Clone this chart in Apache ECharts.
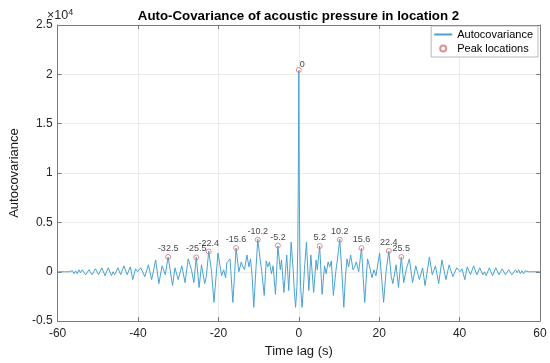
<!DOCTYPE html>
<html>
<head>
<meta charset="utf-8">
<script src="https://cdn.jsdelivr.net/npm/echarts@6/dist/echarts.min.js"></script>
<style>html,body{margin:0;padding:0;background:#fff;}#c{width:550px;height:363px;}</style>
</head>
<body>
<div id="c"></div>
<script>
// Autocovariance is an even function: read the non-negative lags, mirror to negative lags
const lagPos = [0,0.12,0.25,0.45,0.8,1.1,1.4,1.9,2.5,3.0,3.7,4.3,4.6,5.2,5.8,6.4,6.8,7.3,7.7,8.1,8.6,9.2,9.6,10.2,10.7,11.2,11.6,12.0,12.4,12.9,13.5,14.0,14.3,14.9,15.6,16.0,16.4,17.1,17.5,17.9,18.2,18.7,19.2,20.1,21.1,21.7,22.4,23.0,23.4,24.2,24.8,25.5,26.1,26.7,27.5,28.3,29.1,30.0,30.8,31.4,32.5,33.2,34.0,34.8,35.6,36.6,37.4,38.3,39.3,40.1,40.6,41.3,41.9,42.7,43.5,44.3,45.0,45.8,46.2,46.6,47.4,48.2,49.0,49.8,50.6,51.4,52.2,53.0,53.9,54.3,54.7,55.1,55.5,55.9,56.3,56.7,57.1,58.0,60.0];
const covPos = [20400,9000,2500,-1500,-3600,-2000,200,3000,-1900,1700,-2100,1200,200,2600,-2300,600,-200,1000,500,1100,-2400,0,1200,3300,0,-3600,-500,1300,500,1700,200,600,1000,0,2400,-500,-3100,1300,700,900,-600,200,-400,1900,-3100,0,2100,-500,-1200,700,-1600,1500,-1100,200,1300,-1100,600,-800,400,-1400,1500,-300,600,-1200,1200,-800,700,-500,400,0,300,-800,500,-300,600,-300,400,-300,0,-400,400,-400,400,-300,300,-300,200,-300,200,-100,200,-200,100,-200,100,-100,0,0,0];

const peakLags = [-32.5,-25.5,-22.4,-15.6,-10.2,-5.2,0,5.2,10.2,15.6,22.4,25.5];
const peakVals = [1500,1450,2050,2400,3250,2650,20440,2600,3250,2400,2100,1500];
const peakLabels = ['-32.5','-25.5','-22.4','-15.6','-10.2','-5.2','0','5.2','10.2','15.6','22.4','25.5'];

const xTicks = {min:-60, max:60, interval:20};
const yTicks = {min:-5000, max:25000, interval:5000};

const lineData = [];
for (let i = lagPos.length - 1; i > 0; i--) lineData.push([-lagPos[i], covPos[i]]);
for (let i = 0; i < lagPos.length; i++) lineData.push([lagPos[i], covPos[i]]);

const peakData = peakLags.map((t, i) => {
  const d = {value:[t, peakVals[i]], name: peakLabels[i]};
  if (t === 0) d.label = {position:'right', offset:[-3,-5]};
  return d;
});

const FONT = '"Liberation Sans", Arial, Helvetica, sans-serif';
const AX = '#7a7a7a';
const LINE = '#4aa3d0';
const chart = echarts.init(document.getElementById('c'), null, {renderer:'canvas'});
chart.setOption({
  animation:false,
  backgroundColor:'#fff',
  textStyle:{fontFamily:FONT},
  title:{
    text:'Auto-Covariance of acoustic pressure in location 2',
    left:293.5, top:5, textAlign:'center',
    textStyle:{fontSize:13.3, fontWeight:'bold', color:'#000', fontFamily:FONT}
  },
  grid:{left:47, right:10, top:25, bottom:41, containLabel:false},
  legend:{
    orient:'vertical', right:12, top:26,
    backgroundColor:'#fff', borderColor:'#a8a8a8', borderWidth:0.8,
    padding:[3,5,3,2], itemGap:3, itemWidth:18, itemHeight:6,
    textStyle:{fontSize:11, color:'#000', fontFamily:FONT},
    data:[
      {name:'Autocovariance', itemStyle:{color:'rgba(0,0,0,0)', borderWidth:0, opacity:0}},
      {name:'Peak locations'}
    ]
  },
  xAxis:[{
    type:'value', min:xTicks.min, max:xTicks.max, interval:xTicks.interval,
    name:'Time lag (s)', nameLocation:'middle', nameGap:22,
    nameTextStyle:{fontSize:13, color:'#1a1a1a', fontFamily:FONT},
    axisLine:{show:true, onZero:false, lineStyle:{color:AX, width:1}},
    axisTick:{show:true, inside:true, length:4, lineStyle:{color:AX}},
    axisLabel:{fontSize:12, color:'#262626', margin:7, fontFamily:FONT},
    splitLine:{show:true, lineStyle:{color:'#ebebeb', width:1}}
  },{
    type:'value', position:'top', min:xTicks.min, max:xTicks.max, interval:xTicks.interval,
    axisLine:{show:true, onZero:false, lineStyle:{color:AX, width:1}},
    axisTick:{show:true, inside:true, length:4, lineStyle:{color:AX}},
    axisLabel:{show:false}, splitLine:{show:false}
  }],
  yAxis:[{
    type:'value', min:yTicks.min, max:yTicks.max, interval:yTicks.interval,
    name:'Autocovariance', nameLocation:'middle', nameGap:33,
    nameTextStyle:{fontSize:13, color:'#1a1a1a', fontFamily:FONT},
    axisLine:{show:true, onZero:false, lineStyle:{color:AX, width:1}},
    axisTick:{show:true, inside:true, length:4, lineStyle:{color:AX}},
    axisLabel:{fontSize:12, color:'#262626', margin:5, fontFamily:FONT,
      formatter:v => String(Math.round(v/1000)/10)},
    splitLine:{show:true, lineStyle:{color:'#ebebeb', width:1}}
  },{
    type:'value', position:'right', min:yTicks.min, max:yTicks.max, interval:yTicks.interval,
    axisLine:{show:true, onZero:false, lineStyle:{color:AX, width:1}},
    axisTick:{show:true, inside:true, length:4, lineStyle:{color:AX}},
    axisLabel:{show:false}, splitLine:{show:false}
  }],
  graphic:[{
    type:'text', left:47, top:8,
    style:{
      text:'×10{s|4}', fill:'#262626', font:'12.5px '+FONT,
      rich:{s:{fontSize:9, verticalAlign:'top', padding:[0,0,7,0], fill:'#262626'}}
    }
  }],
  series:[{
    name:'Autocovariance', type:'line', data:lineData, symbol:'none',
    lineStyle:{color:LINE, width:1}, itemStyle:{color:LINE}, z:2
  },{
    name:'Peak locations', type:'scatter', data:peakData,
    symbol:'circle', symbolSize:5,
    itemStyle:{color:'rgba(255,255,255,0)', borderColor:'#d87474', borderWidth:1},
    label:{show:true, position:'top', distance:1, fontSize:9, color:'#111', fontFamily:FONT,
      formatter:p => p.name},
    z:3
  }]
});
</script>
</body>
</html>
